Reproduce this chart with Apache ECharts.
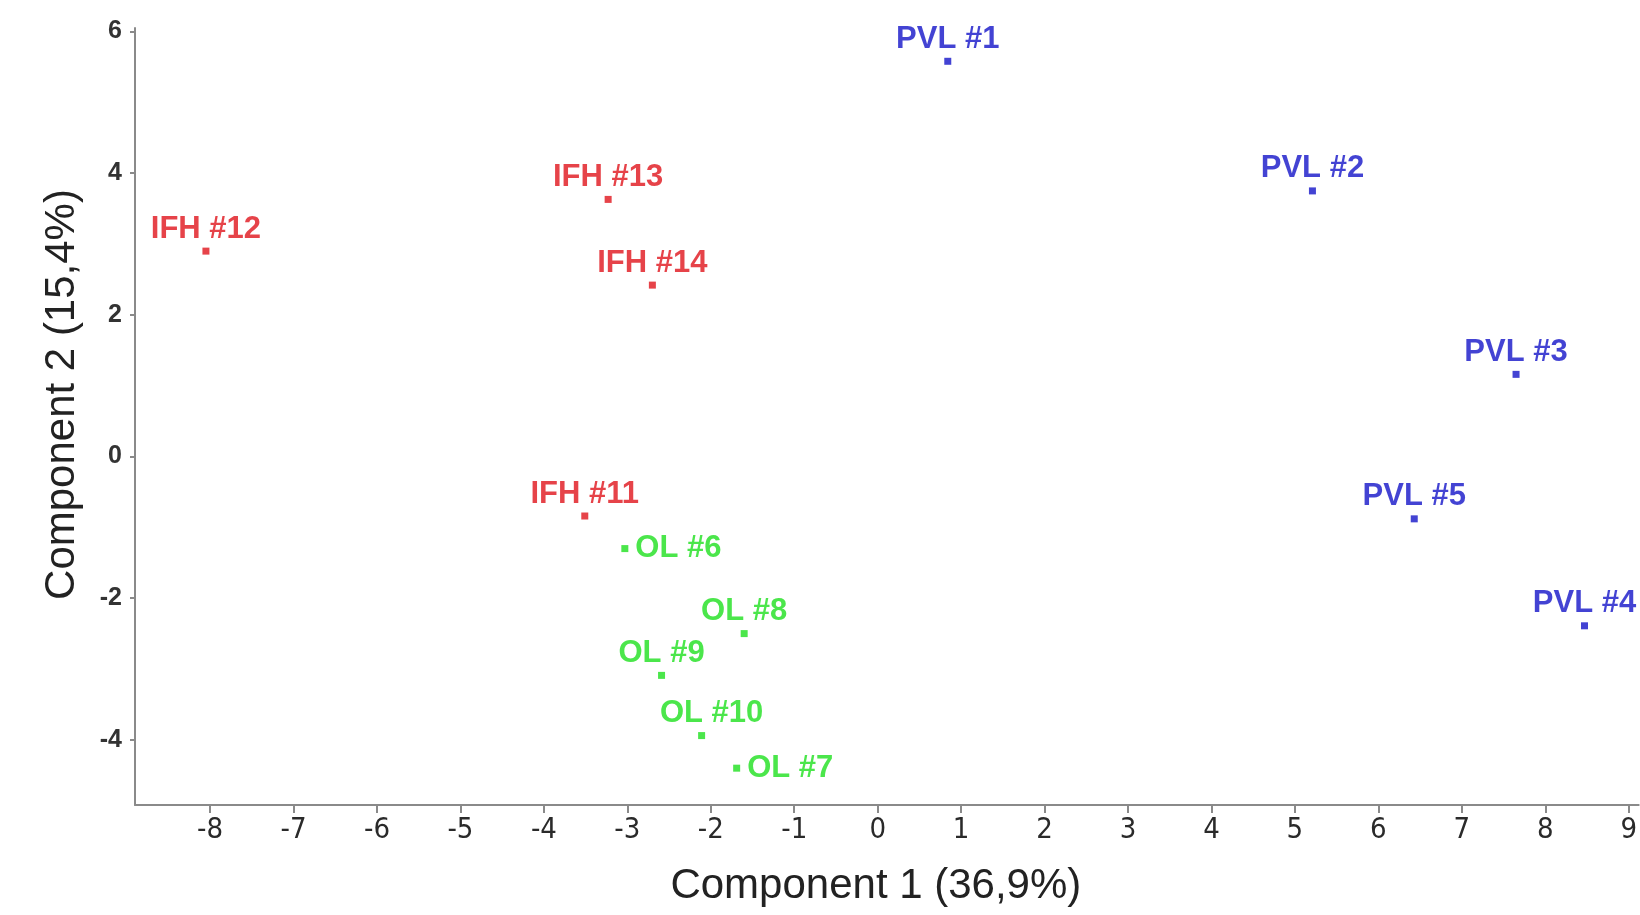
<!DOCTYPE html>
<html>
<head>
<meta charset="utf-8">
<script src="https://cdn.jsdelivr.net/npm/echarts@6/dist/echarts.min.js"></script>
<style>
  html, body { margin: 0; padding: 0; background: #fff; }
  #pca { width: 1640px; height: 915px; }
</style>
</head>
<body>
<div id="pca"></div>
<script>
// sample scores (component 1, component 2)
const pvlNames = ['PVL #1', 'PVL #2', 'PVL #3', 'PVL #4', 'PVL #5'];
const pvlX = [0.84, 5.21, 7.65, 8.47, 6.43];
const pvlY = [5.58, 3.75, 1.16, -2.39, -0.88];

const olNames = ['OL #6', 'OL #7', 'OL #8', 'OL #9', 'OL #10'];
const olX = [-3.03, -1.69, -1.60, -2.59, -2.11];
const olY = [-1.30, -4.40, -2.50, -3.09, -3.94];

const ifhNames = ['IFH #11', 'IFH #12', 'IFH #13', 'IFH #14'];
const ifhX = [-3.51, -8.05, -3.23, -2.70];
const ifhY = [-0.84, 2.90, 3.63, 2.42];

const xTicks = [-8, -7, -6, -5, -4, -3, -2, -1, 0, 1, 2, 3, 4, 5, 6, 7, 8, 9];
const yTicks = [-4, -2, 0, 2, 4, 6];

// labels that sit to the right of the point instead of above it
const rightLabels = ['OL #6', 'OL #7'];
const labelNudge = { 'OL #10': [10, 0] };

function points(names, xs, ys) {
  return names.map((n, i) => {
    let item = { name: n, value: [xs[i], ys[i]] };
    if (rightLabels.includes(n)) {
      item.label = { position: 'right', distance: 7 };
    }
    if (labelNudge[n]) {
      item.label = Object.assign(item.label || {}, { offset: labelNudge[n] });
    }
    return item;
  });
}

function scatter(name, color, data) {
  return {
    name: name,
    type: 'scatter',
    symbol: 'rect',
    symbolSize: 7,
    itemStyle: { color: color },
    data: data,
    label: {
      show: true,
      position: 'top',
      distance: 3,
      formatter: '{b}',
      color: color,
      fontFamily: 'Liberation Sans, Arial, sans-serif',
      fontWeight: 'bold',
      fontSize: 31
    },
    emphasis: { disabled: true }
  };
}

var myChart = echarts.init(document.getElementById('pca'));
var option = {
  backgroundColor: '#fff',
  animation: false,
  grid: { left: 135, right: 0, top: 28, bottom: 110 },
  xAxis: {
    type: 'value',
    min: -8.9,
    max: 9.12,
    name: 'Component 1 (36,9%)',
    nameLocation: 'middle',
    nameGap: 60,
    nameTextStyle: {
      fontFamily: 'Liberation Sans, Arial, sans-serif',
      fontSize: 42,
      color: '#222',
      padding: [0, 22, 0, 0]
    },
    axisLine: { show: true, onZero: false, lineStyle: { color: '#8a8a8a', width: 2 } },
    axisTick: { show: true, length: 8, customValues: xTicks, lineStyle: { color: '#8a8a8a', width: 2 } },
    axisLabel: {
      customValues: xTicks,
      margin: 11,
      fontFamily: 'Liberation Sans Narrow, DejaVu Sans Condensed, sans-serif',
      fontSize: 29,
      color: '#2a2a2a'
    },
    splitLine: { show: false }
  },
  yAxis: {
    type: 'value',
    min: -4.92,
    max: 6.05,
    name: 'Component 2 (15,4%)',
    nameLocation: 'middle',
    nameGap: 52,
    nameTextStyle: {
      fontFamily: 'Liberation Sans, Arial, sans-serif',
      fontSize: 42,
      color: '#222',
      padding: [0, 0, 0, 44]
    },
    axisLine: { show: true, onZero: false, lineStyle: { color: '#8a8a8a', width: 2 } },
    axisTick: { show: true, length: 5, customValues: yTicks, lineStyle: { color: '#8a8a8a', width: 2 } },
    axisLabel: {
      customValues: yTicks,
      margin: 13,
      fontFamily: 'Liberation Sans, Arial, sans-serif',
      fontWeight: 'bold',
      fontSize: 25,
      color: '#333'
    },
    splitLine: { show: false }
  },
  series: [
    scatter('PVL', '#1414c8', points(pvlNames, pvlX, pvlY)),
    scatter('OL', '#1ee01e', points(olNames, olX, olY)),
    scatter('IFH', '#e0141c', points(ifhNames, ifhX, ifhY))
  ]
};
myChart.setOption(option);
window.addEventListener('resize', () => {
  myChart.resize();
});
</script>
</body>
</html>
